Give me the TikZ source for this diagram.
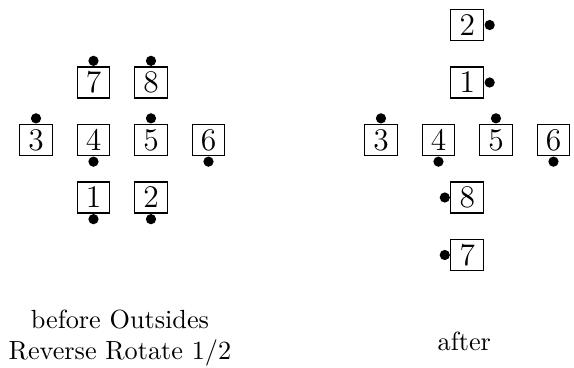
\documentclass[tikz,border=0pt]{standalone}
\usetikzlibrary{positioning}
\tikzset{
  cell/.style={draw,line width=0.4pt,font=\large,inner sep=0pt,
    minimum width=12.4pt,minimum height=11.8pt},
  dotmark/.style={circle,fill=black,inner sep=0pt,minimum size=3.9pt}
}
\begin{document}
\begin{tikzpicture}[x=0.77cm,y=0.77cm]
\useasboundingbox (-0.626,-3.948) rectangle (9.357,2.435);
% before
\node[cell] (b7) at (1,1) {7};
\node[cell] (b8) at (2,1) {8};
\node[cell] (b3) at (0,0) {3};
\node[cell] (b4) at (1,0) {4};
\node[cell] (b5) at (2,0) {5};
\node[cell] (b6) at (3,0) {6};
\node[cell] (b1) at (1,-1) {1};
\node[cell] (b2) at (2,-1) {2};
\node[dotmark] (db7) [above=0pt of b7] {};
\node[dotmark] (db8) [above=0pt of b8] {};
\node[dotmark] (db3) [above=0pt of b3] {};
\node[dotmark] (db5) [above=0pt of b5] {};
\node[dotmark] (db4) [below=0pt of b4] {};
\node[dotmark] (db6) [below=0pt of b6] {};
\node[dotmark] (db1) [below=0pt of b1] {};
\node[dotmark] (db2) [below=0pt of b2] {};
% after
\node[cell] (a2) at (7.5,2) {2};
\node[cell] (a1) at (7.5,1) {1};
\node[cell] (a3) at (6,0) {3};
\node[cell] (a4) at (7,0) {4};
\node[cell] (a5) at (8,0) {5};
\node[cell] (a6) at (9,0) {6};
\node[cell] (a8) at (7.5,-1) {8};
\node[cell] (a7) at (7.5,-2) {7};
\node[dotmark] (da2) [right=0pt of a2] {};
\node[dotmark] (da1) [right=0pt of a1] {};
\node[dotmark] (da3) [above=0pt of a3] {};
\node[dotmark] (da5) [above=0pt of a5] {};
\node[dotmark] (da4) [below=0pt of a4] {};
\node[dotmark] (da6) [below=0pt of a6] {};
\node[dotmark] (da8) [left=0pt of a8] {};
\node[dotmark] (da7) [left=0pt of a7] {};
% captions
\node[align=center] (before) at (1.46,-3.44) {before Outsides\\Reverse Rotate 1/2};
\node (after) at (7.45,-3.5) {after};
\end{tikzpicture}
\end{document}
